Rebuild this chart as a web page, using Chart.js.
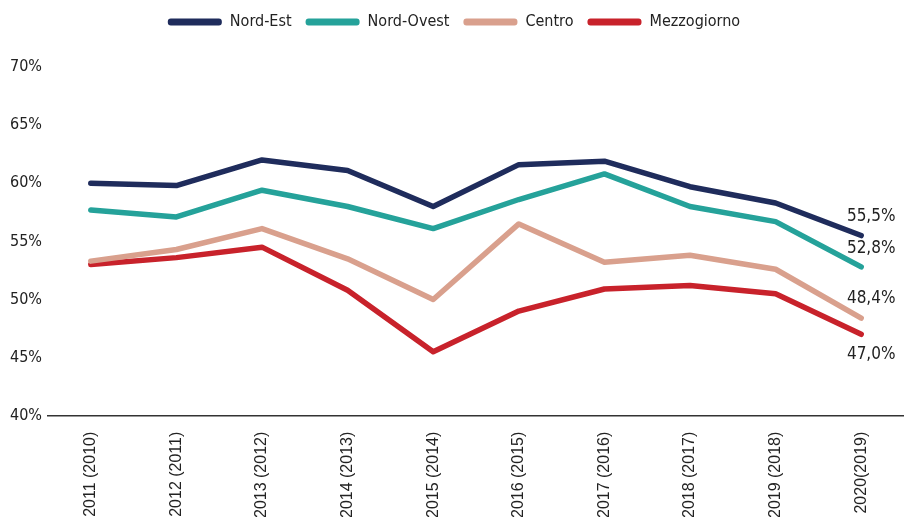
<!DOCTYPE html>
<html>
<head>
<meta charset="utf-8">
<script src="https://cdn.jsdelivr.net/npm/chart.js@4"></script>
<style>
  body { margin: 0; background: #fff; overflow: hidden; }
  #chart { display: block; }
</style>
</head>
<body>
<!-- canvas is a bit taller than the window so the x labels run off the bottom edge -->
<canvas id="chart" width="904" height="534"></canvas>
<script>
// Categories and series values (percent)
const years = ['2011 (2010)', '2012 (2011)', '2013 (2012)', '2014 (2013)', '2015 (2014)',
               '2016 (2015)', '2017 (2016)', '2018 (2017)', '2019 (2018)', '2020(2019)'];
const nordEst     = [60.0, 59.8, 62.0, 61.1, 58.0, 61.6, 61.9, 59.7, 58.3, 55.5];
const nordOvest   = [57.7, 57.1, 59.4, 58.0, 56.1, 58.6, 60.8, 58.0, 56.7, 52.8];
const centro      = [53.3, 54.3, 56.1, 53.5, 50.0, 56.5, 53.2, 53.8, 52.6, 48.4];
const mezzogiorno = [53.0, 53.6, 54.5, 50.8, 45.5, 49.0, 50.9, 51.2, 50.5, 47.0];
const yTicks = [40, 45, 50, 55, 60, 65, 70];

const condensed = '"Liberation Sans Narrow", "DejaVu Sans Condensed", Roboto, sans-serif';

function series(label, data, color, labelOffset) {
    return {
        label: label,
        data: data,
        borderColor: color,
        backgroundColor: color,
        borderWidth: 5.5,
        pointRadius: 0,
        tension: 0,
        fill: false,
        borderCapStyle: 'round',
        borderJoinStyle: 'round',
        endLabelOffset: labelOffset
    };
}

// Draws the value of the last point of each line
const endLabels = {
    id: 'endLabels',
    afterDatasetsDraw(chart) {
        const ctx = chart.ctx;
        ctx.save();
        ctx.font = '17px ' + condensed;
        ctx.fillStyle = '#222';
        ctx.textAlign = 'center';
        ctx.textBaseline = 'middle';
        chart.data.datasets.forEach((ds, i) => {
            const meta = chart.getDatasetMeta(i);
            const last = meta.data[meta.data.length - 1];
            const value = ds.data[ds.data.length - 1];
            const text = value.toFixed(1).replace('.', ',') + '%';
            ctx.fillText(text, last.x + 10, last.y + ds.endLabelOffset);
        });
        ctx.restore();
    }
};

// Extra space between the legend and the plot
const legendMargin = {
    id: 'legendMargin',
    beforeInit(chart) {
        const fit = chart.legend.fit;
        chart.legend.fit = function() {
            fit.bind(chart.legend)();
            this.height += 27;
        };
    }
};

new Chart(document.getElementById('chart'), {
    type: 'line',
    data: {
        labels: years,
        datasets: [
            series('Nord-Est', nordEst, '#1f2c5c', -19),
            series('Nord-Ovest', nordOvest, '#25a29a', -18),
            series('Centro', centro, '#d9a08d', -19),
            series('Mezzogiorno', mezzogiorno, '#c8222b', 20)
        ]
    },
    options: {
        responsive: false,
        animation: false,
        layout: { padding: { left: 4, right: 0, top: 0, bottom: 0 } },
        plugins: {
            legend: {
                position: 'top',
                labels: {
                    boxWidth: 54,
                    boxHeight: 7,
                    padding: 14,
                    color: '#222',
                    font: { family: condensed, size: 16 },
                    generateLabels(chart) {
                        return Chart.defaults.plugins.legend.labels.generateLabels(chart)
                            .map(item => Object.assign(item, { lineWidth: 0, borderRadius: 3 }));
                    },
                    useBorderRadius: true,
                    borderRadius: 3
                }
            },
            tooltip: { enabled: false }
        },
        scales: {
            x: {
                offset: true,
                grid: { display: false, drawTicks: false },
                border: { color: '#333', width: 1.5 },
                ticks: {
                    color: '#222',
                    minRotation: 90,
                    maxRotation: 90,
                    padding: 16,
                    font: { family: '"Liberation Sans", Arial, sans-serif', size: 16 }
                }
            },
            y: {
                min: 40,
                max: 70,
                afterBuildTicks(axis) {
                    axis.ticks = yTicks.map(v => ({ value: v }));
                },
                grid: { display: false, drawTicks: false },
                border: { display: false },
                ticks: {
                    color: '#222',
                    padding: 6,
                    font: { family: condensed, size: 16 },
                    callback: value => value + '%'
                }
            }
        }
    },
    plugins: [endLabels, legendMargin]
});
</script>
</body>
</html>
